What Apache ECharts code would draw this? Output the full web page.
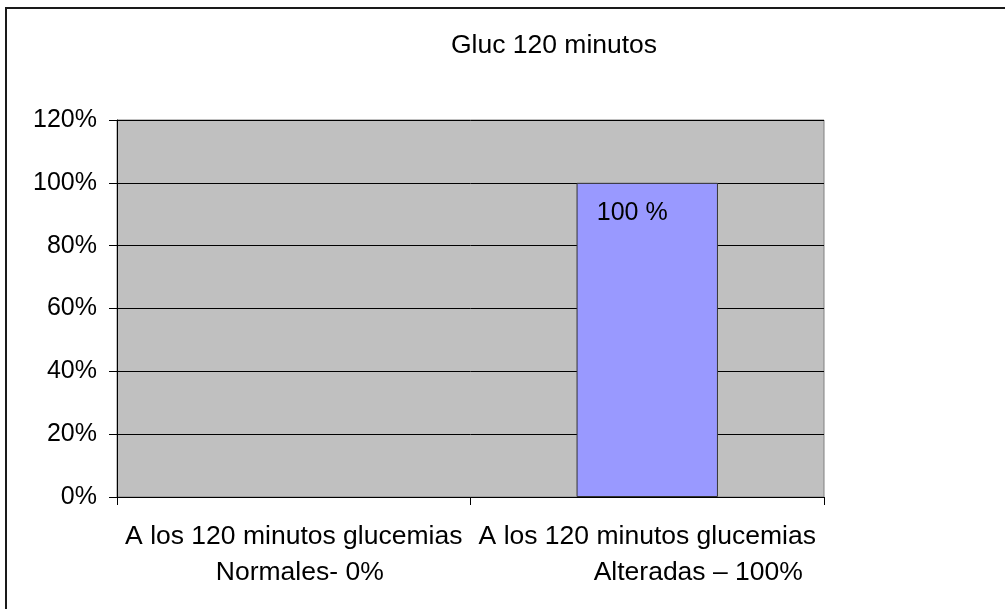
<!DOCTYPE html>
<html>
<head>
<meta charset="utf-8">
<script src="https://cdn.jsdelivr.net/npm/echarts@6/dist/echarts.min.js"></script>
<style>
  html, body { margin: 0; padding: 0; background: #ffffff; }
  #chart { width: 1005px; height: 609px; }
</style>
</head>
<body>
<div id="chart"></div>
<script>
// Chart data
const chartTitle = 'Gluc 120 minutos';
const categories = [
  'A los 120 minutos glucemias\nNormales- 0%',
  'A los 120 minutos glucemias\nAlteradas \u2013 100%'
];
const percentValues = [0, 100];
const yTicks = { min: 0, max: 120, step: 20 };

const FONT = '"Liberation Sans", Arial, sans-serif';
// left indent of each label's second line
const secondLineIndent = [12, 102];

const chart = echarts.init(document.getElementById('chart'), null, { renderer: 'canvas' });

chart.setOption({
  backgroundColor: '#ffffff',
  animation: false,
  title: {
    text: chartTitle,
    left: 549,
    top: 27,
    textAlign: 'center',
    textStyle: { fontFamily: FONT, fontSize: 26.5, fontWeight: 'normal', color: '#000000' }
  },
  graphic: [
    {
      type: 'polyline',
      shape: { points: [[6, 609], [6, 8], [1005, 8]] },
      style: { stroke: '#1a1a1a', lineWidth: 2, fill: null },
      z: 10
    }
  ],
  grid: {
    left: 117,
    right: 181,
    top: 120,
    bottom: 112,
    show: true,
    backgroundColor: '#c0c0c0',
    borderColor: '#808080',
    borderWidth: 1
  },
  xAxis: {
    type: 'category',
    data: categories,
    boundaryGap: true,
    axisLine: { show: true, lineStyle: { color: '#000000', width: 1 } },
    axisTick: { show: true, alignWithLabel: false, length: 8, lineStyle: { color: '#000000' } },
    axisLabel: {
      interval: 0,
      margin: 22,
      fontFamily: FONT,
      fontSize: 26.5,
      lineHeight: 36,
      color: '#000000',
      formatter: function (value, index) {
        const parts = value.split('\n');
        return parts[0] + '\n{l2_' + index + '|' + parts[1] + '}';
      },
      rich: {
        l2_0: { fontFamily: FONT, fontSize: 26.5, lineHeight: 36, color: '#000', padding: [0, 0, 0, secondLineIndent[0]] },
        l2_1: { fontFamily: FONT, fontSize: 26.5, lineHeight: 36, color: '#000', padding: [0, 0, 0, secondLineIndent[1]] }
      }
    },
    splitLine: { show: false }
  },
  yAxis: {
    type: 'value',
    min: yTicks.min,
    max: yTicks.max,
    interval: yTicks.step,
    axisLine: { show: true, lineStyle: { color: '#000000', width: 1 } },
    axisTick: { show: true, length: 8, lineStyle: { color: '#000000' } },
    axisLabel: {
      margin: 20,
      fontFamily: FONT,
      fontSize: 25,
      color: '#000000',
      formatter: '{value}%'
    },
    splitLine: { show: true, lineStyle: { color: '#000000', width: 1 } }
  },
  series: [
    {
      type: 'bar',
      data: percentValues.map(function (v) {
        return { value: v, itemStyle: { borderWidth: v > 0 ? 1 : 0 } };
      }),
      barWidth: '40%',
      itemStyle: { color: '#9999ff', borderColor: '#333333', borderWidth: 1 },
      label: {
        show: true,
        position: 'insideTop',
        offset: [-15, 13],
        fontFamily: FONT,
        fontSize: 25,
        color: '#000000',
        formatter: function (p) { return p.value > 0 ? p.value + ' %' : ''; }
      }
    }
  ]
});
</script>
</body>
</html>
